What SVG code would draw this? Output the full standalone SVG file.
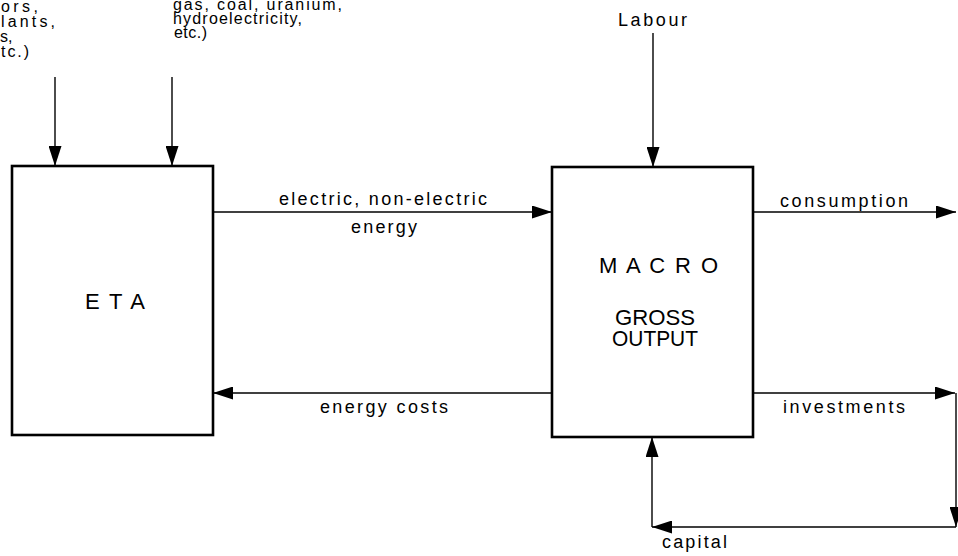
<svg xmlns="http://www.w3.org/2000/svg" width="958" height="556" viewBox="0 0 958 556">
<style>
text{font-family:"Liberation Sans",Arial,sans-serif;fill:#000}
.lbl{font-size:18px}
.top{font-size:16px}
.big{font-size:22px}
.box{fill:#fff;stroke:#000;stroke-width:2.6}
.con{fill:none;stroke:#000;stroke-width:1.4}
</style>
<defs>
<marker id="ah" markerUnits="userSpaceOnUse" markerWidth="20" markerHeight="13" refX="20" refY="6.5" orient="auto">
<path d="M0,0 L20,6.5 L0,13 z" fill="#000"/>
</marker>
</defs>
<rect width="958" height="556" fill="#fff"/>
<g id="inputs-text">
<text class="top" x="1" y="12" textLength="37" lengthAdjust="spacing">ors,</text>
<text class="top" x="1" y="27" textLength="54" lengthAdjust="spacing">lants,</text>
<text class="top" x="0" y="42">s,</text>
<text class="top" x="1" y="57" textLength="28" lengthAdjust="spacing">tc.)</text>
<text class="top" x="173" y="10" textLength="169" lengthAdjust="spacing">gas, coal, uranium,</text>
<text class="top" x="173" y="24" textLength="129" lengthAdjust="spacing">hydroelectricity,</text>
<text class="top" x="174" y="38" textLength="33" lengthAdjust="spacing">etc.)</text>
<text class="lbl" x="618" y="26" textLength="69" lengthAdjust="spacing">Labour</text>
</g>
<g id="ETA">
<rect class="box" x="12" y="166" width="201" height="269"/>
<text class="big" x="85" y="309" textLength="60" lengthAdjust="spacing">E T A</text>
</g>
<g id="MACRO">
<rect class="box" x="552" y="167" width="201" height="270"/>
<text class="big" x="599" y="273" textLength="119" lengthAdjust="spacing">M A C R O</text>
<text class="big" x="615" y="325" textLength="80" lengthAdjust="spacingAndGlyphs">GROSS</text>
<text class="big" x="612" y="346" textLength="86" lengthAdjust="spacingAndGlyphs">OUTPUT</text>
</g>
<g id="connectors">
<line class="con" x1="55" y1="77" x2="55" y2="166" marker-end="url(#ah)"/>
<line class="con" x1="172" y1="77" x2="172" y2="166" marker-end="url(#ah)"/>
<line class="con" x1="653" y1="33" x2="653" y2="167" marker-end="url(#ah)"/>
<line class="con" x1="213" y1="212" x2="552" y2="212" marker-end="url(#ah)"/>
<line class="con" x1="552" y1="393" x2="213" y2="393" marker-end="url(#ah)"/>
<line class="con" x1="753" y1="212" x2="956" y2="212" marker-end="url(#ah)"/>
<line class="con" x1="753" y1="393" x2="955" y2="393" marker-end="url(#ah)"/>
<line class="con" x1="956" y1="393" x2="956" y2="527" marker-end="url(#ah)"/>
<line class="con" x1="956" y1="527" x2="652" y2="527" marker-end="url(#ah)"/>
<line class="con" x1="652" y1="527" x2="652" y2="437" marker-end="url(#ah)"/>
</g>
<g id="labels">
<text class="lbl" x="279" y="205" textLength="208" lengthAdjust="spacing">electric, non-electric</text>
<text class="lbl" x="351" y="233" textLength="66" lengthAdjust="spacing">energy</text>
<text class="lbl" x="780" y="207" textLength="128" lengthAdjust="spacing">consumption</text>
<text class="lbl" x="320" y="413" textLength="128" lengthAdjust="spacing">energy costs</text>
<text class="lbl" x="783" y="413" textLength="122" lengthAdjust="spacing">investments</text>
<text class="lbl" x="662" y="548" textLength="65" lengthAdjust="spacing">capital</text>
</g>
</svg>
